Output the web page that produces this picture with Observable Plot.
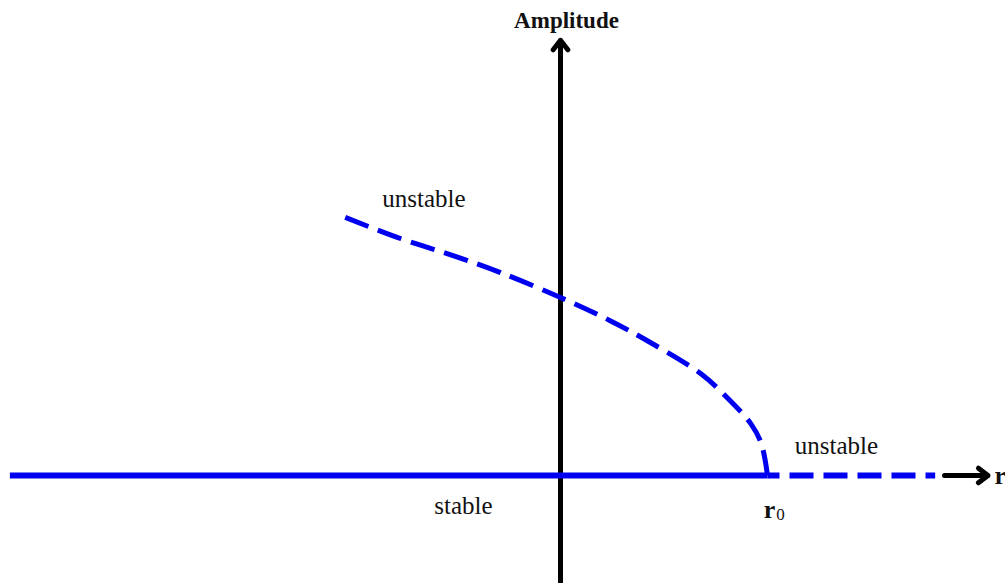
<!DOCTYPE html>
<html>
<head>
<meta charset="utf-8">
<script src="https://cdn.jsdelivr.net/npm/d3@7"></script>
<script src="https://cdn.jsdelivr.net/npm/@observablehq/plot@0.6"></script>
<style>
  html, body { margin: 0; padding: 0; background: #fff; }
  #chart svg { display: block; }
</style>
</head>
<body>
<div id="chart"></div>
<script>
// Unstable branch (dashed curve): control parameter r vs amplitude
const curveR = [-1.04, -0.77, -0.53, -0.29, 0, 0.24, 0.43, 0.68, 0.82, 0.92, 0.97, 1.0];
const curveA = [1.45, 1.33, 1.24, 1.14, 1.0, 0.87, 0.75, 0.57, 0.42, 0.29, 0.18, 0];
// Zero-amplitude branch: stable up to r0, unstable beyond
const stableR = [-2.66, 1.0];
const unstableR = [1.0, 1.81];
const r0 = 1.0;

const labels = [
  {r: -0.66, a: 1.556, text: "unstable"},
  {r: 1.333, a: 0.163, text: "unstable"},
  {r: -0.469, a: -0.174, text: "stable"}
];

const curve = curveR.map((r, i) => ({r, a: curveA[i]}));
const blue = "#0000f0";
const serif = "Liberation Serif, Times New Roman, serif";

const chart = Plot.plot({
  width: 1005,
  height: 583,
  margin: 0,
  x: {domain: [-560 / 207, 445 / 207], axis: null},
  y: {domain: [-108 / 178, 475 / 178], axis: null},
  style: {background: "#fff"},
  marks: [
    // vertical axis
    Plot.arrow([{x1: 0, y1: -0.62, x2: 0, y2: 2.445}], {
      x1: "x1", y1: "y1", x2: "x2", y2: "y2",
      stroke: "black", strokeWidth: 5, headLength: 3.6, headAngle: 75, bend: false
    }),
    // horizontal axis arrow
    Plot.arrow([{x1: 1.855, y1: 0, x2: 2.065, y2: 0}], {
      x1: "x1", y1: "y1", x2: "x2", y2: "y2",
      stroke: "black", strokeWidth: 5, headLength: 3.6, headAngle: 75, bend: false
    }),
    // stable zero branch
    Plot.line(stableR.map(r => ({r, a: 0})), {
      x: "r", y: "a", stroke: blue, strokeWidth: 6, strokeLinecap: "butt"
    }),
    // unstable zero branch
    Plot.line(unstableR.map(r => ({r, a: 0})), {
      x: "r", y: "a", stroke: blue, strokeWidth: 6, strokeLinecap: "butt",
      strokeDasharray: "24,10", strokeDashoffset: 12
    }),
    // unstable curve
    Plot.line(curve, {
      x: "r", y: "a", stroke: blue, strokeWidth: 5, curve: "catmull-rom",
      strokeLinecap: "butt", strokeDasharray: "25,10"
    }),
    // labels
    Plot.text(labels, {
      x: "r", y: "a", text: "text", fontSize: 25, fontFamily: serif, fill: "#111"
    }),
    Plot.text(["Amplitude"], {
      x: 0.029, y: 2.556, fontSize: 23, fontWeight: "bold", fontFamily: serif, fill: "#111"
    }),
    Plot.text(["r"], {
      x: r0, y: -0.19, dx: 2, fontSize: 26, fontWeight: "bold", fontFamily: serif, fill: "#111"
    }),
    Plot.text(["0"], {
      x: r0, y: -0.19, dx: 13, dy: 5, fontSize: 17, fontFamily: serif, fill: "#111"
    }),
    Plot.text(["r"], {
      x: 2.15, y: 0, dx: -11, textAnchor: "start", fontSize: 26, fontWeight: "bold",
      fontFamily: serif, fill: "#111"
    })
  ]
});

document.getElementById("chart").append(chart);
</script>
</body>
</html>
